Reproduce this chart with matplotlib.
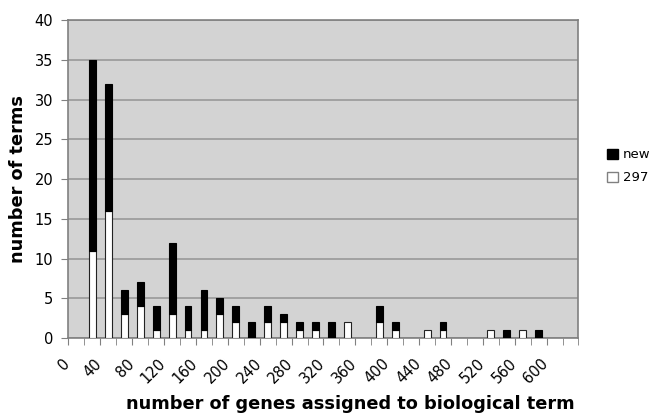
import numpy as np
import matplotlib.pyplot as plt
import matplotlib.transforms as mtransforms
from matplotlib.patches import Patch

# histogram bins of 20 genes, lower edges 0..620
bin_starts = np.arange(0, 640, 20)
total = [0, 35, 32, 6, 7, 4, 12, 4, 6, 5, 4, 2, 4, 3, 2, 2,
         2, 2, 0, 4, 2, 0, 1, 2, 0, 0, 1, 1, 1, 1, 0, 0]
old_297 = [0, 11, 16, 3, 4, 1, 3, 1, 1, 3, 2, 0, 2, 2, 1, 1,
           0, 2, 0, 2, 1, 0, 1, 1, 0, 0, 1, 0, 1, 0, 0, 0]
new = [t - o for t, o in zip(total, old_297)]
xtick_labels = [str(v) for v in range(0, 620, 40)]

fig = plt.figure(figsize=(6.53, 4.17), dpi=100)
ax = fig.add_axes([0.1049, 0.1894, 0.7810, 0.7626])
ax.set_facecolor('#d3d3d3')

centers = bin_starts + 10
w = 8.6
b1 = ax.bar(centers, old_297, width=w, color='white', edgecolor='#222222', linewidth=0.8, zorder=3)
b2 = ax.bar(centers, new, width=w, bottom=old_297, color='black', edgecolor='black', linewidth=0.8, zorder=3)
# hide zero-height bars
for rect in list(b1) + list(b2):
    if rect.get_height() == 0:
        rect.set_visible(False)

ax.set_xlim(0, 640)
ax.set_ylim(0, 40)
ax.set_yticks(range(0, 45, 5))
ax.set_xticks(range(0, 620, 40))
ax.set_xticklabels(xtick_labels, rotation=45, ha='right', va='top',
                   rotation_mode='anchor', fontsize=10.5)
ax.set_xticks(np.arange(0, 660, 20), minor=True)
ax.tick_params(axis='x', which='both', length=5, color='#808080', direction='out', pad=8)
ax.tick_params(axis='y', length=5, color='#808080', labelsize=10.5, pad=6)
shift = mtransforms.ScaledTranslation(-0.06, 0, fig.dpi_scale_trans)
for lab in ax.get_xticklabels():
    lab.set_transform(lab.get_transform() + shift)

ax.yaxis.grid(True, color='#999999', linewidth=1.2, zorder=1)
ax.set_axisbelow(True)
for s in ax.spines.values():
    s.set_color('#808080')
    s.set_linewidth(1.2)

fig.text(350 / 653, 0.03, 'number of genes assigned to biological term',
         ha='center', va='center', fontsize=12.8, fontweight='bold')
fig.text(18 / 653, 0.57, 'number of terms', ha='center', va='center',
         rotation=90, fontsize=12.8, fontweight='bold')

handles = [Patch(facecolor='black', edgecolor='black'),
           Patch(facecolor='white', edgecolor='#808080')]
fig.legend(handles, ['new', '297'], loc='center left', bbox_to_anchor=(0.929, 0.601),
           frameon=False, fontsize=9.5, handlelength=0.85, handleheight=0.85,
           handletextpad=0.4, labelspacing=0.75, borderaxespad=0, borderpad=0)

fig.savefig('out.png', dpi=100)
